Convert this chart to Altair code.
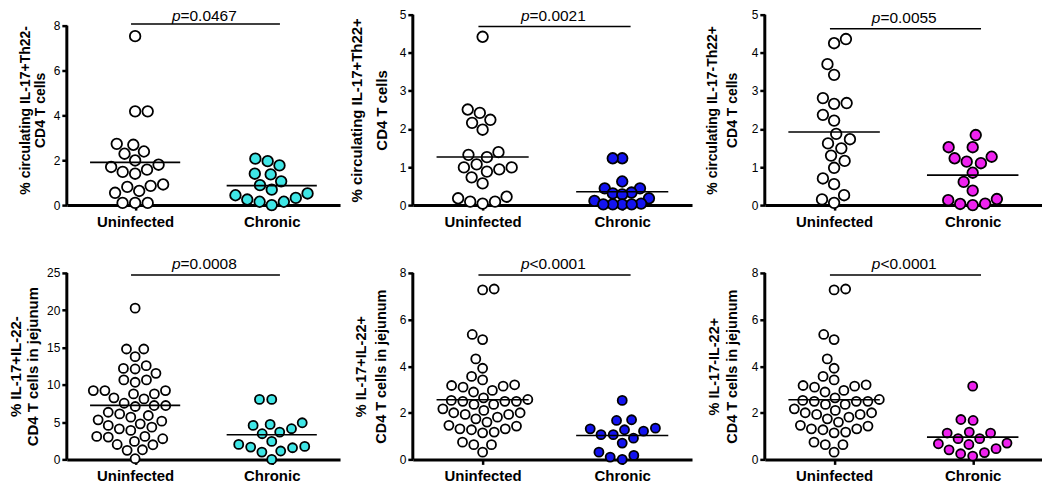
import math
import altair as alt
import pandas as pd

GROUPS = ["Uninfected", "Chronic"]

# ---- data (% of CD4 T cells) ----
p1_uninf = [7.53, 4.18, 4.18, 2.73, 2.69, 2.39, 2.29, 1.99, 1.80, 1.70, 1.58, 1.48, 1.40,
            0.92, 0.86, 0.81, 0.63, 0.55, 0.10, 0.10, 0.10]
p1_chron = [2.07, 1.96, 1.77, 1.40, 1.37, 1.06, 0.89, 0.69, 0.52, 0.44, 0.32, 0.25, 0.15, 0.15, 0.0]

p2_uninf = [4.42, 2.51, 2.42, 2.24, 2.16, 1.98, 1.39, 1.32, 1.26, 1.07, 0.99, 0.99, 0.94, 0.88,
            0.73, 0.57, 0.22, 0.18, 0.09, 0.04, 0.09]
p2_chron = [1.23, 1.23, 0.62, 0.44, 0.44, 0.31, 0.33, 0.28, 0.18, 0.11, 0.04, 0.02, 0.02, 0.02, 0.02]

p3_uninf = [4.36, 4.25, 3.70, 3.42, 2.81, 2.68, 2.66, 2.37, 2.22, 1.87, 1.73, 1.62, 1.49, 1.30,
            1.16, 0.98, 0.70, 0.55, 0.26, 0.15, 0.06]
p3_chron = [1.84, 1.52, 1.52, 1.27, 1.23, 1.14, 1.10, 0.85, 0.61, 0.38, 0.16, 0.13, 0.04, 0.0, 0.03]

p4_uninf = [20.28, 14.8, 14.8, 13.77, 12.57, 12.2, 12.12, 11.54, 10.65, 10.65, 10.34, 9.22, 9.22,
            9.22, 8.78, 8.78, 8.25, 8.11, 7.53, 7.22, 7.22, 7.09, 6.32, 6.1, 5.88, 5.66, 5.3, 5.12,
            4.77, 4.55, 4.32, 4.1, 3.88, 3.08, 3.08, 2.99, 2.77, 2.41, 2.0, 1.96, 1.29, 1.21, 0.09]
p4_chron = [8.04, 8.04, 4.91, 4.69, 4.55, 4.11, 3.66, 3.44, 2.41, 2.01, 1.74, 1.65, 1.56, 1.12, 0.98, 0.0]

p5_uninf = [7.31, 7.27, 5.36, 5.14, 4.31, 3.91, 3.56, 3.41, 3.20, 3.17, 3.14, 3.10, 2.96, 2.89,
            2.64, 2.57, 2.53, 2.49, 2.49, 2.49, 2.36, 2.36, 2.17, 2.10, 2.00, 2.00, 1.93, 1.93,
            1.81, 1.74, 1.60, 1.46, 1.43, 1.31, 1.31, 1.27, 1.17, 1.14, 0.74, 0.63, 0.63, 0.31]
p5_chron = [2.53, 1.70, 1.67, 1.34, 1.31, 1.27, 1.21, 1.06, 1.06, 0.91, 0.70, 0.31, 0.17, 0.10, 0.0]

p6_uninf = [7.31, 7.27, 5.36, 5.14, 4.31, 3.91, 3.56, 3.41, 3.20, 3.17, 3.14, 3.10, 2.96, 2.89,
            2.64, 2.57, 2.53, 2.49, 2.49, 2.49, 2.36, 2.36, 2.17, 2.10, 2.00, 2.00, 1.93, 1.93,
            1.81, 1.74, 1.60, 1.46, 1.43, 1.31, 1.31, 1.27, 1.17, 1.14, 0.74, 0.63, 0.63, 0.31]
p6_chron = [3.14, 1.71, 1.67, 1.17, 1.13, 1.13, 0.89, 0.89, 0.70, 0.67, 0.64, 0.46, 0.41, 0.29, 0.24, 0.14]

y_titles = [
    ["% circulating IL-17+Th22-", "CD4 T cells"],
    ["% circulating IL-17+Th22+", "CD4 T cells"],
    ["% circulating IL-17-Th22+", "CD4 T cells"],
    ["% IL-17+IL-22-", "CD4 T cells in jejunum"],
    ["% IL-17+IL-22+", "CD4 T cells in jejunum"],
    ["% IL-17-IL-22+", "CD4 T cells in jejunum"],
]
p_rel = ["=", "=", "=", "=", "<", "<"]
p_vals = ["0.0467", "0.0021", "0.0055", "0.0008", "0.0001", "0.0001"]
y_ticks = [[0, 2, 4, 6, 8], [0, 1, 2, 3, 4, 5], [0, 1, 2, 3, 4, 5],
           [0, 5, 10, 15, 20, 25], [0, 2, 4, 6, 8], [0, 2, 4, 6, 8]]
chronic_colors = ["#3fe6e6", "#1414f0", "#ee22ee", "#3fe6e6", "#1414f0", "#ee22ee"]

FONT = "Liberation Sans"

# ---- layout / style per panel (d = symbol spacing used by the swarm, px) ----
panels = [
    dict(u=p1_uninf, c=p1_chron, w=274, h=191, ytop=191 / 22.5, pline=8.07, dy=-3,
         tfs=14, tlh=15, tpad=5.5, size=112, du=12.6, dc=12.6),
    dict(u=p2_uninf, c=p2_chron, w=280, h=191, ytop=5, pline=4.69, dy=-5.5,
         tfs=15, tlh=25, tpad=10, size=112, du=12.6, dc=9.5),
    dict(u=p3_uninf, c=p3_chron, w=278, h=191, ytop=5, pline=4.63, dy=-6,
         tfs=14, tlh=20, tpad=11.5, size=112, du=12.6, dc=12.6),
    dict(u=p4_uninf, c=p4_chron, w=274, h=187, ytop=25, pline=24.73, dy=-6,
         tfs=15, tlh=17, tpad=6, size=82, du=11.6, dc=12.3),
    dict(u=p5_uninf, c=p5_chron, w=280, h=187, ytop=8, pline=7.91, dy=-6,
         tfs=14.5, tlh=20, tpad=11, size=82, du=11.6, dc=12.3),
    dict(u=p6_uninf, c=p6_chron, w=278, h=187, ytop=8, pline=7.91, dy=-6,
         tfs=14.5, tlh=18, tpad=12, size=82, du=11.6, dc=12.3),
]


def swarm(vals, ppu_y, ppu_x, d):
    """Compact beeswarm: horizontal offsets (in x data units) so circles do not overlap."""
    order = sorted(range(len(vals)), key=lambda i: vals[i])
    placed = []
    out = [0.0] * len(vals)
    nl = nr = 0
    for i in order:
        y = vals[i] * ppu_y
        near = [(px, py) for px, py in placed if abs(py - y) < d]
        cands = {0.0}
        for px, py in near:
            dx = math.sqrt(d * d - (py - y) ** 2)
            cands.add(px + dx)
            cands.add(px - dx)

        def ok(c):
            return all((c - px) ** 2 + (y - py) ** 2 >= d * d - 1e-6 for px, py in near)

        good = [c for c in cands if ok(c)]

        def key(c):
            pref_left = nl <= nr
            side = 0 if (c < 0 and pref_left) or (c > 0 and not pref_left) else 1
            return (round(abs(c), 3), side)

        best = sorted(good, key=key)[0]
        if best < -1e-6:
            nl += 1
        elif best > 1e-6:
            nr += 1
        placed.append((best, y))
        out[i] = best / ppu_x
    return out


def make_panel(k):
    p = panels[k]
    ppu_y = p["h"] / p["ytop"]
    ppu_x = p["w"] / 2.0
    rows = []
    for g, vals, d in ((1, p["u"], p["du"]), (2, p["c"], p["dc"])):
        offs = swarm(vals, ppu_y, ppu_x, d)
        fillc = "white" if g == 1 else chronic_colors[k]
        for v, o in zip(vals, offs):
            rows.append({"g": g, "group": GROUPS[g - 1], "value": v, "x": g + o, "fc": fillc})
    df = pd.DataFrame(rows)

    xs = alt.Scale(domain=[0.5, 2.5], nice=False, zero=False)
    ys = alt.Scale(domain=[0, p["ytop"]], nice=False, zero=False)

    xaxis = alt.Axis(values=[1, 2], labelExpr="datum.value == 1 ? 'Uninfected' : 'Chronic'",
                     title=None, grid=False, domainColor="black", domainWidth=3,
                     tickColor="black", tickWidth=2.5, tickSize=5, labelFont=FONT,
                     labelFontSize=15, labelFontWeight="bold", labelColor="black",
                     labelPadding=4, labelFlush=False, labelOverlap=False)
    yaxis = alt.Axis(values=y_ticks[k], title=y_titles[k], grid=False, domain=False,
                     tickColor="black", tickWidth=2.5, tickSize=5, labelFont=FONT,
                     labelFontSize=12, labelColor="black", labelPadding=2,
                     labelFlush=False, labelOverlap=False, titleFont=FONT,
                     titleFontSize=p["tfs"], titleFontWeight="bold", titleColor="black",
                     titleLineHeight=p["tlh"], titlePadding=p["tpad"])

    def X(field):
        return alt.X(field, type="quantitative", scale=xs, axis=xaxis)

    def Y(field):
        return alt.Y(field, type="quantitative", scale=ys, axis=yaxis)

    base = alt.Chart(df)
    pts = base.mark_point(shape="circle", filled=True, size=p["size"], stroke="black",
                          strokeWidth=1.8, opacity=1).encode(
        x=X("x"), y=Y("value"), fill=alt.Fill("fc:N", scale=None))
    means = base.transform_aggregate(m="mean(value)", groupby=["g"]).transform_calculate(
        x1="datum.g - 0.33", x2="datum.g + 0.33").mark_rule(color="black", strokeWidth=1.6).encode(
        x=X("x1"), x2="x2:Q", y=Y("m"))

    yline = alt.Chart(pd.DataFrame({"x1": [0.5], "y0": [0], "y1": [max(y_ticks[k])]})).mark_rule(
        color="black", strokeWidth=3).encode(x=X("x1"), y=Y("y0"), y2="y1:Q")

    ann = pd.DataFrame({"x1": [0.97], "x2": [2.06], "xm": [1.5], "m": [p["pline"]],
                        "pre": ["p"], "post": [p_rel[k] + p_vals[k]]})
    pl = alt.Chart(ann).mark_rule(color="black", strokeWidth=1.5).encode(
        x=X("x1"), x2="x2:Q", y=Y("m"))
    t1 = alt.Chart(ann).mark_text(align="right", baseline="alphabetic", dx=-23, dy=p["dy"],
                                  font=FONT, fontSize=15.5, fontStyle="italic", color="black").encode(
        x=X("xm"), y=Y("m"), text="pre:N")
    t2 = alt.Chart(ann).mark_text(align="left", baseline="alphabetic", dx=-23, dy=p["dy"],
                                  font=FONT, fontSize=15.5, color="black").encode(
        x=X("xm"), y=Y("m"), text="post:N")

    return alt.layer(pts, means, pl, t1, t2, yline).properties(width=p["w"], height=p["h"])


P = [make_panel(k) for k in range(6)]
chart = alt.concat(*P, columns=3, spacing={"row": 68, "column": 73}, bounds="flush").properties(
    padding=0, background="white").configure_view(stroke=None)

chart.save("out.html", embed_options={"renderer": "svg", "actions": False})
